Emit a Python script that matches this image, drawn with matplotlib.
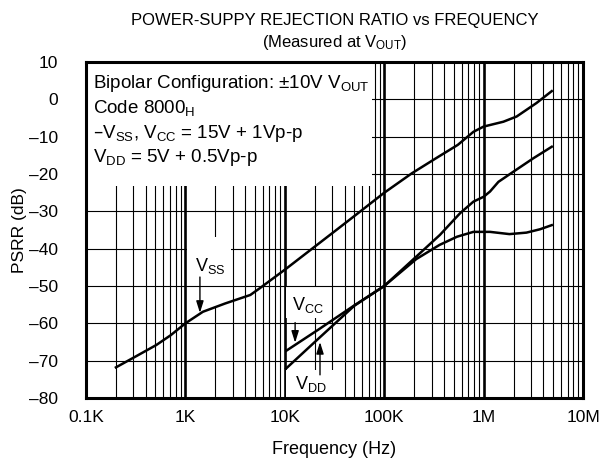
import numpy as np
import matplotlib
matplotlib.use("Agg")
import matplotlib.pyplot as plt
from matplotlib.patches import Rectangle

plt.rcParams['font.family'] = ['Liberation Sans', 'DejaVu Sans']
plt.rcParams['mathtext.default'] = 'regular'

# curves (frequency in Hz, PSRR in dB)
vss_freq = [200, 320, 510, 710, 1000, 1500, 2500, 4500, 5600, 10400, 33000, 57000,
            98000, 190000, 350000, 550000, 790000, 1000000, 1580000, 2150000, 3400000, 4850000]
vss_db = [-71.8, -68.8, -65.8, -63.2, -60.0, -56.9, -54.7, -52.4, -50.6, -45.3, -35.0, -30.1,
          -25.2, -19.8, -15.4, -12.2, -8.7, -7.3, -6.0, -4.6, -1.0, 2.2]

vcc_freq = [10400, 22000, 50000, 100000, 210000, 360000, 540000, 790000, 1160000,
            1820000, 2700000, 3700000, 4850000]
vcc_db = [-67.3, -61.6, -55.2, -50.0, -42.8, -39.0, -36.8, -35.5, -35.5,
          -36.1, -35.7, -34.8, -33.7]

vdd_freq = [10300, 22000, 50000, 100000, 183000, 364000, 580000, 790000, 1000000,
            1160000, 1410000, 1990000, 3160000, 4850000]
vdd_db = [-72.1, -64.0, -55.3, -50.0, -43.6, -36.3, -30.5, -27.4, -26.1,
          -24.7, -22.1, -19.4, -15.8, -12.7]

x_ticks = [1e2, 1e3, 1e4, 1e5, 1e6, 1e7]
x_tick_labels = ['0.1K', '1K', '10K', '100K', '1M', '10M']
y_ticks = [-80, -70, -60, -50, -40, -30, -20, -10, 0, 10]
y_tick_labels = ['\u201380', '\u201370', '\u201360', '\u201350', '\u201340',
                 '\u201330', '\u201320', '\u201310', '0', '10']

box_lines = ['Bipolar Configuration: \u00b110V V$_{OUT}$',
             'Code 8000$_{H}$',
             '\u2013V$_{SS}$, V$_{CC}$ = 15V + 1Vp-p',
             'V$_{DD}$ = 5V + 0.5Vp-p']

fig = plt.figure(figsize=(6.01, 4.67), dpi=100)
ax = fig.add_axes([86 / 601, 1 - 398 / 467, 497 / 601, 336 / 467])
ax.set_xscale('log')
ax.set_xlim(1e2, 1e7)
ax.set_ylim(-80, 10)

# vertical grid: thin minor lines, heavy decade lines
for dec in x_ticks[:-1]:
    for m in range(2, 10):
        ax.axvline(dec * m, color='black', lw=0.8, zorder=1)
for f in x_ticks[1:-1]:
    ax.axvline(f, color='black', lw=1.9, zorder=1)

# white patches behind the labels that only hide the vertical lines
for (x0, x1, y0, y1) in [(1.03e3, 2.9e3, -56, -36.9),
                         (10.4e3, 29e3, -58.6, -50.3),
                         (10.4e3, 31.5e3, -80, -72.5)]:
    ax.add_patch(Rectangle((x0, y0), x1 - x0, y1 - y0, facecolor='white',
                           edgecolor='none', zorder=1.5))

for y in y_ticks[1:-1]:
    ax.axhline(y, color='black', lw=0.8, zorder=2)

# patches that hide everything (text box and V_SS label)
for (x0, x1, y0, y1) in [(1e2, 75e3, -23.2, 10),
                         (1.03e3, 2.9e3, -44, -36.9)]:
    ax.add_patch(Rectangle((x0, y0), x1 - x0, y1 - y0, facecolor='white',
                           edgecolor='none', zorder=2.2))

ax.plot(vss_freq, vss_db, color='black', lw=1.8, zorder=3)
ax.plot(vcc_freq, vcc_db, color='black', lw=1.8, zorder=3)
ax.plot(vdd_freq, vdd_db, color='black', lw=1.8, zorder=3)

arrow = dict(arrowstyle='-|>,head_length=0.7,head_width=0.22', color='black',
             lw=1.0, shrinkA=0, shrinkB=0)
ax.annotate('', xy=(1.4e3, -57.2), xytext=(1.4e3, -47.6), arrowprops=arrow, zorder=4)
ax.annotate('', xy=(12.7e3, -65.2), xytext=(12.7e3, -59.8), arrowprops=arrow, zorder=4)
ax.annotate('', xy=(22.6e3, -65.0), xytext=(22.6e3, -73.8), arrowprops=arrow, zorder=4)

ax.text(1.77e3, -44.6, 'V$_{SS}$', fontsize=13, ha='center', va='center', zorder=4)
ax.text(17.1e3, -55.2, 'V$_{CC}$', fontsize=13, ha='center', va='center', zorder=4)
ax.text(18.4e3, -76.2, 'V$_{DD}$', fontsize=13, ha='center', va='center', zorder=4)

for i, line in enumerate(box_lines):
    ax.text(0.014, [0.9226, 0.848, 0.774, 0.702][i], line, transform=ax.transAxes,
            fontsize=13.5, ha='left', va='baseline', zorder=4)

ax.set_xticks(x_ticks)
ax.set_xticklabels(x_tick_labels)
ax.set_xticks([], minor=True)
ax.set_yticks(y_ticks)
ax.set_yticklabels(y_tick_labels)
ax.tick_params(axis='both', length=0, labelsize=12.5)
ax.tick_params(axis='y', pad=20)
ax.tick_params(axis='x', pad=9)
for s in ax.spines.values():
    s.set_linewidth(2.2)

fig.text(334.5 / 601, 1 - 20 / 467, 'POWER-SUPPY REJECTION RATIO vs FREQUENCY',
         fontsize=12, ha='center', va='center')
fig.text(334.5 / 601, 1 - 43 / 467, '(Measured at V$_{OUT}$)',
         fontsize=12, ha='center', va='center')
fig.text(20 / 601, 1 - 230 / 467, 'PSRR (dB)', fontsize=12.5, rotation=90,
         ha='center', va='center')
fig.text(334.5 / 601, 1 - 450 / 467, 'Frequency (Hz)', fontsize=13,
         ha='center', va='center')

fig.savefig('out.png', dpi=100)
